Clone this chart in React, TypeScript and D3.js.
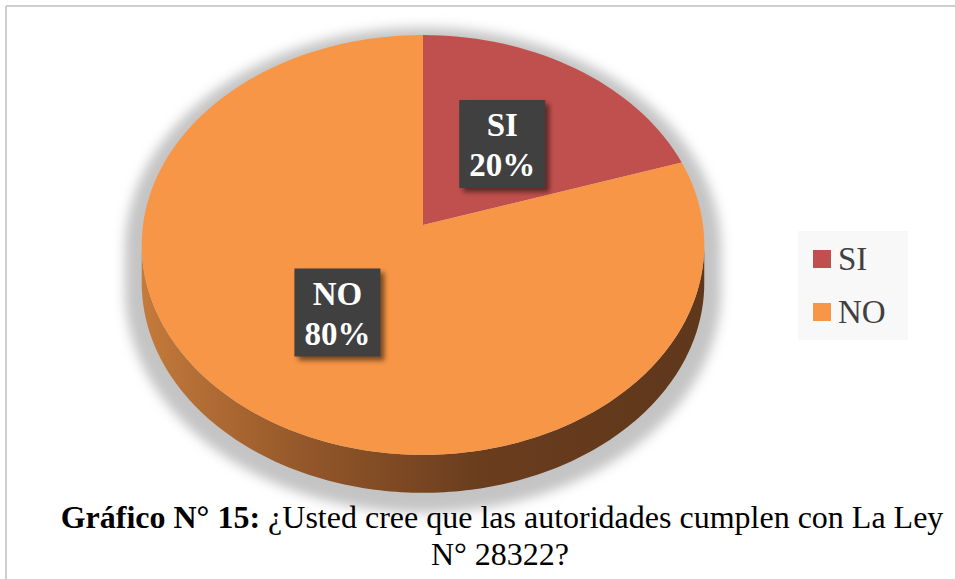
import * as d3 from 'd3';

// data
const categories = ['SI', 'NO'];
const values = [20, 80];
const colors = ['#c0504d', '#f79646'];
const titleBold = 'Gráfico N° 15:';
const titleRest = ' ¿Usted cree que las autoridades cumplen con La Ley';
const titleLine2 = 'N° 28322?';

const W = 955;
const H = 579;
const FONT = 'Liberation Serif';

// tilted pie: circle center and perspective params
const cx = 423;
const cy = 225;
const A = 280;
const B = 208;
const k = 0.095;
const depth = 38;

// angle (0 = top, clockwise) -> point on top face
const proj = (a: number, r = 1): [number, number] => {
  const u = Math.sin(a) * r;
  const v = Math.cos(a) * r;
  const w = 1 + k * v;
  return [cx + (A * u) / w, cy - (B * v) / w];
};

export default function App() {
  const pie = d3.pie<number>().sort(null).startAngle(0).endAngle(2 * Math.PI);
  const arcs = pie(values);
  const line = d3.line<[number, number]>();

  const slicePath = (a0: number, a1: number) => {
    const n = Math.max(4, Math.ceil(((a1 - a0) / (2 * Math.PI)) * 180));
    const pts: [number, number][] = [[cx, cy]];
    for (let i = 0; i <= n; i++) pts.push(proj(a0 + ((a1 - a0) * i) / n));
    return line(pts) + 'Z';
  };

  // outline samples
  const N = 360;
  const outline: [number, number][] = d3.range(N).map((i) => proj((i / N) * 2 * Math.PI));
  let iR = 0;
  let iL = 0;
  outline.forEach((p, i) => {
    if (p[0] > outline[iR][0]) iR = i;
    if (p[0] < outline[iL][0]) iL = i;
  });
  const front: [number, number][] = outline.slice(iR, iL + 1);
  const frontBottom: [number, number][] = front.map((p) => [p[0], p[1] + depth]);
  const sidePath = line([...front, ...frontBottom.slice().reverse()]) + 'Z';

  // shadow silhouette, a bit larger than the pie
  const backArc = outline.slice(iL).concat(outline.slice(0, iR + 1));
  const silhouette = [...backArc, ...frontBottom];
  const shadowPath = (sc: number) =>
    line(silhouette.map((p) => [cx + (p[0] - cx) * sc, 268 + (p[1] - 262) * sc] as [number, number])) + 'Z';

  const total = d3.sum(values);
  const labelBoxes = arcs.map((a, i) => {
    const mid = (a.startAngle + a.endAngle) / 2;
    const [lx, ly] = proj(mid, 0.5);
    return { x: lx, y: ly, name: categories[i], pct: `${Math.round((values[i] / total) * 100)}%` };
  });

  return (
    <svg width={W} height={H} style={{ position: 'absolute', left: 0, top: 0 }}>
      <style>{`text { font-family: 'Liberation Serif', 'Times New Roman', serif; }`}</style>
      <defs>
        <linearGradient id="sideGrad" x1={outline[iL][0]} x2={outline[iR][0]} y1={0} y2={0} gradientUnits="userSpaceOnUse">
          <stop offset="0" stopColor="#c47a3b" />
          <stop offset="0.3" stopColor="#925629" />
          <stop offset="0.6" stopColor="#6a3d1e" />
          <stop offset="1" stopColor="#5f371b" />
        </linearGradient>
        <filter id="pieShadow" x="-50%" y="-50%" width="200%" height="200%">
          <feGaussianBlur stdDeviation="6" />
        </filter>
        <filter id="boxBlur" x="-50%" y="-50%" width="200%" height="200%">
          <feGaussianBlur stdDeviation="2.5" />
        </filter>
      </defs>

      {/* chart border */}
      <line x1={6} y1={6} x2={W} y2={6} stroke="#bfbfbf" strokeWidth={1.5} />
      <line x1={6} y1={6} x2={6} y2={H} stroke="#bfbfbf" strokeWidth={1.5} />

      {/* shadow */}
      <path d={shadowPath(1.06)} fill="#c4c4c4" filter="url(#pieShadow)" />

      {/* side wall */}
      <path d={sidePath} fill="url(#sideGrad)" />

      {/* top face slices */}
      {arcs.map((a, i) => (
        <path key={categories[i]} d={slicePath(a.startAngle, a.endAngle)} fill={colors[i]} />
      ))}

      {/* data labels */}
      {labelBoxes.map((b) => (
        <g key={b.name} transform={`translate(${b.x},${b.y})`}>
          <rect x={-39} y={-40} width={86} height={88} fill="#000" opacity={0.5} filter="url(#boxBlur)" />
          <rect x={-43} y={-44} width={86} height={88} fill="#404040" />
          <text x={0} y={-8} textAnchor="middle" fill="#fff" fontWeight="bold" fontSize={33} fontFamily={FONT}>
            {b.name}
          </text>
          <text x={0} y={32} textAnchor="middle" fill="#fff" fontWeight="bold" fontSize={33} fontFamily={FONT}>
            {b.pct}
          </text>
        </g>
      ))}

      {/* legend */}
      <rect x={798} y={231} width={110} height={109} fill="#f8f8f8" />
      {categories.map((c, i) => (
        <g key={c} transform={`translate(813,${250 + i * 53})`}>
          <rect width={18} height={18} fill={colors[i]} />
          <text x={25} y={20} fill="#404040" fontSize={33} fontFamily={FONT}>
            {c}
          </text>
        </g>
      ))}

      {/* caption */}
      <text x={502} y={528} textAnchor="middle" fontSize={32} fill="#000" fontFamily={FONT}>
        <tspan fontWeight="bold">{titleBold}</tspan>
        <tspan>{titleRest}</tspan>
      </text>
      <text x={500} y={565} textAnchor="middle" fontSize={32} fill="#000" fontFamily={FONT}>
        {titleLine2}
      </text>
    </svg>
  );
}
